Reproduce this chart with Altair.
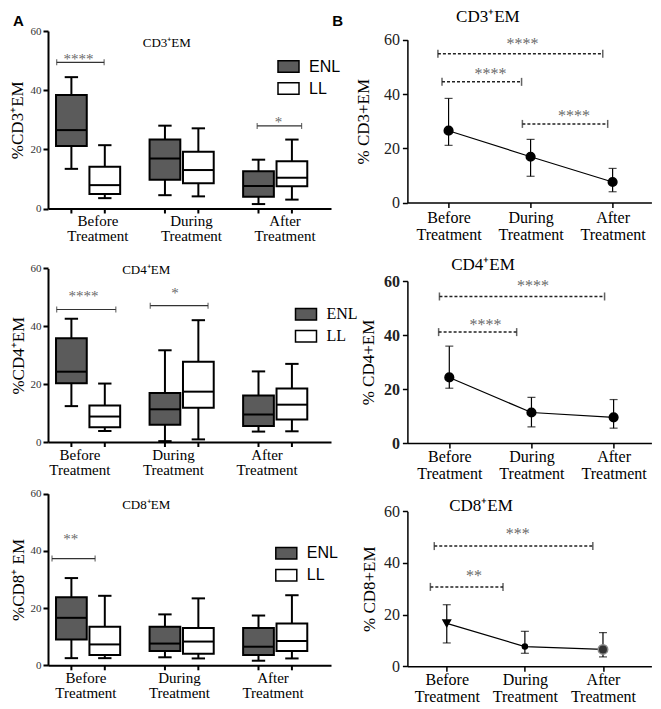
import altair as alt
import pandas as pd

SERIF = "Liberation Serif"
SANS = "Liberation Sans"

treatments = ["Before Treatment", "During Treatment", "After Treatment"]
groups = ["ENL", "LL"]
y_ticks = [0, 20, 40, 60]

# five-number summaries [min, Q1, median, Q3, max], one per treatment
cd3_enl = [[13.4, 21.1, 26.5, 38.4, 44.4], [4.5, 9.7, 16.9, 23.3, 28.0], [1.5, 4.0, 7.6, 12.6, 16.5]]
cd3_ll = [[3.5, 4.9, 7.9, 14.1, 21.4], [4.1, 8.5, 13.0, 19.2, 27.1], [3.0, 7.5, 10.4, 16.0, 23.3]]
cd4_enl = [[12.4, 20.3, 24.3, 35.9, 42.6], [0.3, 6.0, 11.3, 16.9, 31.7], [3.6, 5.5, 9.5, 16.1, 24.4]]
cd4_ll = [[3.8, 5.1, 8.8, 12.6, 20.2], [0.9, 11.8, 17.4, 27.7, 42.1], [3.7, 7.8, 12.9, 18.5, 27.0]]
cd8_enl = [[2.5, 9.0, 16.6, 23.8, 30.5], [2.8, 5.0, 7.6, 13.5, 17.8], [1.6, 3.6, 6.5, 13.0, 17.4]]
cd8_ll = [[2.5, 3.6, 7.3, 13.5, 24.3], [2.4, 4.0, 8.3, 13.0, 23.4], [2.4, 5.0, 8.5, 14.6, 24.5]]

# significance brackets: (label, x_start, x_end, y, label_x, label_y)
cd3_box_sig = [("****", 0.26, 1.68, 49.4, 0.91, 51.2), ("*", 6.26, 7.59, 27.9, 6.9, 29.8)]
cd4_box_sig = [("****", 0.26, 2.03, 45.8, 1.06, 51.0), ("*", 3.06, 4.79, 47.1, 3.8, 52.2)]
cd8_box_sig = [("**", 0.12, 1.41, 37.3, 0.68, 44.7)]
cd3_line_sig = [("****", -0.13, 1.88, 54.9, 0.9, 59.3), ("****", -0.08, 0.89, 44.5, 0.51, 48.1),
                ("****", 0.9, 1.94, 29.0, 1.53, 32.6)]
cd4_line_sig = [("****", -0.12, 1.89, 54.3, 1.02, 58.8), ("****", -0.13, 0.82, 41.1, 0.44, 44.5)]
cd8_line_sig = [("***", -0.16, 1.87, 46.5, 0.91, 51.8), ("**", -0.21, 0.72, 30.7, 0.35, 35.5)]

# ---------------- layout / style ----------------
GROUP0, GROUP_STEP, BOX_HALF, CAP_HALF = 1.2, 2.8, 0.46, 0.2
L_WIDTH, L_DOMAIN = 283, [0, 8.47]
L_UNIT = L_WIDTH / (L_DOMAIN[1] - L_DOMAIN[0])
R_WIDTH = 244
BOX_FILL = ["#5b5b5b", "#ffffff"]
STAR_COLOR = "#6a6a6a"


def sig_frame(sig):
    return pd.DataFrame([{"label": s[0], "x1": s[1], "x2": s[2], "y": s[3], "sx": s[4], "sy": s[5]} for s in sig])


def text_layer(text, x, y, font, size, weight="normal", align="center"):
    return alt.Chart(pd.DataFrame({"t": [text]})).mark_text(
        font=font, fontSize=size, fontWeight=weight, align=align, baseline="middle", color="black"
    ).encode(text="t:N", x=alt.value(x), y=alt.value(y))


def multi_label_expr(values):
    expr = "''"
    for v, name in reversed(list(zip(values, treatments))):
        arr = "[" + ",".join("'" + w + "'" for w in name.split(" ")) + "]"
        expr = f"abs(datum.value - {v:.4f}) < 0.05 ? {arr} : ({expr})"
    return expr


def box_panel(enl, ll, sig, ytitle, ptitle, g):
    rows = []
    for ti, t in enumerate(treatments):
        for gi, (grp, st) in enumerate(zip(groups, (enl[ti], ll[ti]))):
            p = GROUP0 + GROUP_STEP * ti + (gi - 0.5)
            rows.append({"treat": t, "group": grp, "pos": p, "lo": p - BOX_HALF, "hi": p + BOX_HALF,
                         "cl": p - CAP_HALF, "cr": p + CAP_HALF,
                         "mn": st[0], "q1": st[1], "med": st[2], "q3": st[3], "mx": st[4]})
    df = pd.DataFrame(rows)
    positions = [round(v, 4) for v in df["pos"].tolist()]
    label_pos = [round(v + g["ldx"] / L_UNIT, 4) for v in positions[0::2]]
    h, top = g["h"], g["top"]
    xs = alt.Scale(domain=L_DOMAIN, nice=False, zero=False)
    ys = alt.Scale(domain=[0, 60], nice=False, zero=True, range=[h, top])
    xax = alt.Axis(values=label_pos, labelExpr=multi_label_expr(label_pos), title=None, grid=False,
                   ticks=False, domainWidth=2, domainColor="black",
                   labelFont=SERIF, labelFontSize=15, labelColor="black", labelLineHeight=15,
                   labelPadding=5, labelOverlap=False, labelFlush=False)
    yax = alt.Axis(values=y_ticks, title=ytitle, grid=False, tickSize=5, tickWidth=2, tickColor="black",
                   domainWidth=2, domainColor="black", labelFont=SERIF, labelFontSize=11, labelColor="#333333",
                   labelPadding=2, titleFont=SERIF, titleFontSize=17, titleFontWeight="normal",
                   titleColor="black", titleX=g["tx"], titleY=(h + top) / 2, titleBaseline="middle",
                   titleAlign="center", titleAngle=270)

    def X(f):
        return alt.X(f, scale=xs, axis=xax)

    def Y(f):
        return alt.Y(f, scale=ys, axis=yax)

    base = alt.Chart(df)
    ticks = base.mark_rule(color="black", strokeWidth=2).encode(
        x=X("pos:Q"), y=alt.value(h), y2=alt.value(h + 5))
    whisk = base.mark_rule(color="black", strokeWidth=2).encode(x=X("pos:Q"), y=Y("mn:Q"), y2="mx:Q")
    box = base.mark_bar(stroke="black", strokeWidth=2).encode(
        x=X("lo:Q"), x2="hi:Q", y=Y("q1:Q"), y2="q3:Q",
        fill=alt.Fill("group:N", scale=alt.Scale(domain=groups, range=BOX_FILL),
                      legend=alt.Legend(title=None, orient="none", legendX=g["lx"], legendY=g["ly"],
                                        symbolType="M-1,-0.55L1,-0.55L1,0.55L-1,0.55Z", symbolSize=441,
                                        symbolStrokeColor="black", symbolStrokeWidth=1.5,
                                        labelFont=g["lfont"], labelFontSize=16, labelColor="black",
                                        labelOffset=9, rowPadding=1, padding=0)))
    med = base.mark_rule(color="black", strokeWidth=2).encode(x=X("lo:Q"), x2="hi:Q", y=Y("med:Q"))
    cap_lo = base.mark_rule(color="black", strokeWidth=2).encode(x=X("cl:Q"), x2="cr:Q", y=Y("mn:Q"))
    cap_hi = base.mark_rule(color="black", strokeWidth=2).encode(x=X("cl:Q"), x2="cr:Q", y=Y("mx:Q"))

    sdf = sig_frame(sig)
    sbase = alt.Chart(sdf)
    br = sbase.mark_rule(color="#333333", strokeWidth=1.2).encode(x=X("x1:Q"), x2="x2:Q", y=Y("y:Q"))
    br1 = sbase.mark_tick(orient="vertical", size=6, thickness=1.2, color="#333333").encode(x=X("x1:Q"), y=Y("y:Q"))
    br2 = sbase.mark_tick(orient="vertical", size=6, thickness=1.2, color="#333333").encode(x=X("x2:Q"), y=Y("y:Q"))
    stars = sbase.mark_text(font=SERIF, fontSize=15, color=STAR_COLOR, baseline="alphabetic", dy=7).encode(
        x=X("sx:Q"), y=Y("sy:Q"), text="label:N")

    layers = [ticks, whisk, box, med, cap_lo, cap_hi, br, br1, br2, stars,
              text_layer(ptitle, g["ptx"], g["pty"], SERIF, 13)]
    if "panel" in g:
        layers.append(text_layer(g["panel"], -29.5, -9.8, SANS, 15, weight="bold"))
    return alt.layer(*layers).properties(width=L_WIDTH, height=h)


def line_panel(stats, sig, ytitle, ptitle, g, markers):
    rows = []
    for i, st in enumerate(stats):
        rows.append({"i": i, "q1": st[1], "med": st[2], "q3": st[3],
                     "shape": markers[i][0], "size": markers[i][1], "fill": markers[i][2],
                     "stroke": markers[i][3]})
    df = pd.DataFrame(rows)
    h, top = g["h"], g["top"]
    xs = alt.Scale(domain=g["xdom"], nice=False, zero=False)
    ys = alt.Scale(domain=[0, 60], nice=False, zero=True, range=[h, top])
    xax = alt.Axis(values=[0, 1, 2], labelExpr=multi_label_expr([0, 1, 2]), title=None, grid=False,
                   tickSize=5, tickWidth=1.5, tickColor="black", domainWidth=1.5, domainColor="black",
                   labelFont=SERIF, labelFontSize=16, labelColor="black", labelLineHeight=17,
                   labelPadding=g["lpad"], labelOverlap=False, labelFlush=False)
    yax = alt.Axis(values=y_ticks, title=ytitle, grid=False, tickSize=5, tickWidth=1.5, tickColor="black",
                   domainWidth=1.5, domainColor="black", labelFont=SERIF, labelFontSize=16,
                   labelFontWeight=g["yweight"], labelColor="#222222", labelPadding=3,
                   titleFont=SERIF, titleFontSize=17, titleFontWeight="normal", titleColor="black",
                   titleX=g["tx"], titleY=(h + top) / 2, titleBaseline="middle", titleAlign="center",
                   titleAngle=270)

    def X(f):
        return alt.X(f, scale=xs, axis=xax)

    def Y(f):
        return alt.Y(f, scale=ys, axis=yax)

    base = alt.Chart(df)
    line = base.mark_line(color="black", strokeWidth=1.2).encode(x=X("i:Q"), y=Y("med:Q"))
    err = base.mark_rule(color="black", strokeWidth=1.2).encode(x=X("i:Q"), y=Y("q1:Q"), y2="q3:Q")
    c1 = base.mark_tick(orient="horizontal", size=8, thickness=1.2, color="black").encode(x=X("i:Q"), y=Y("q1:Q"))
    c2 = base.mark_tick(orient="horizontal", size=8, thickness=1.2, color="black").encode(x=X("i:Q"), y=Y("q3:Q"))
    pts = base.mark_point(filled=True, opacity=1, strokeWidth=1.5).encode(
        x=X("i:Q"), y=Y("med:Q"),
        shape=alt.Shape("shape:N", scale=None), size=alt.Size("size:Q", scale=None),
        fill=alt.Fill("fill:N", scale=None), stroke=alt.Stroke("stroke:N", scale=None))

    sdf = sig_frame(sig)
    sbase = alt.Chart(sdf)
    br = sbase.mark_rule(color="#222222", strokeWidth=1.5, strokeDash=[3, 2]).encode(x=X("x1:Q"), x2="x2:Q", y=Y("y:Q"))
    br1 = sbase.mark_tick(orient="vertical", size=8, thickness=1.5, color="#222222").encode(x=X("x1:Q"), y=Y("y:Q"))
    br2 = sbase.mark_tick(orient="vertical", size=8, thickness=1.5, color="#222222").encode(x=X("x2:Q"), y=Y("y:Q"))
    stars = sbase.mark_text(font=SERIF, fontSize=16, color=STAR_COLOR, baseline="alphabetic", dy=7).encode(
        x=X("sx:Q"), y=Y("sy:Q"), text="label:N")

    layers = [line, err, c1, c2, pts, br, br1, br2, stars,
              text_layer(ptitle, g["ptx"], g["pty"], SERIF, 17)]
    if "panel" in g:
        layers.append(text_layer(g["panel"], -69.7, -9.7, SANS, 15, weight="bold"))
    return alt.layer(*layers).properties(width=R_WIDTH, height=h)


dot = ("circle", 75, "black", "black")
b3_markers = [("triangle-down", 55, "black", "black"), ("circle", 25, "black", "black"),
              ("circle", 90, "#333333", "#8a8a8a")]

A1 = box_panel(cd3_enl, cd3_ll, cd3_box_sig, "%CD3\u207aEM", "CD3\u207aEM",
               dict(h=177.5, top=0, ldx=26, tx=-31, lx=229, ly=24, lfont=SANS, ptx=118.8, pty=11.7, panel="A"))
A2 = box_panel(cd4_enl, cd4_ll, cd4_box_sig, "%CD4\u207aEM", "CD4\u207aEM",
               dict(h=233, top=59.4, ldx=8, tx=-30, lx=246.5, ly=93.8, lfont=SERIF, ptx=98.2, pty=61.4))
A3 = box_panel(cd8_enl, cd8_ll, cd8_box_sig, "%CD8\u207a EM", "CD8\u207aEM",
               dict(h=222.3, top=50.7, ldx=14, tx=-30, lx=226.8, ly=98.7, lfont=SANS, ptx=98.2, pty=62.4))

B1 = line_panel(cd3_enl, cd3_line_sig, "% CD3+EM", "CD3\u207aEM",
                dict(h=171.6, top=8.8, xdom=[-0.502, 2.473], lpad=2, yweight="normal", tx=-44.2,
                     ptx=80.5, pty=-13.6, panel="B"), [dot, dot, dot])
B2 = line_panel(cd4_enl, cd4_line_sig, "% CD4+EM", "CD4\u207aEM",
                dict(h=234, top=72.1, xdom=[-0.51, 2.46], lpad=0, yweight="bold", tx=-39.3,
                     ptx=75.6, pty=56.2), [dot, dot, dot])
B3 = line_panel(cd8_enl, cd8_line_sig, "% CD8+EM", "CD8\u207aEM",
                dict(h=223.2, top=68.2, xdom=[-0.504, 2.62], lpad=0, yweight="normal", tx=-38.3,
                     ptx=73.6, pty=62.6), b3_markers)

chart = alt.concat(A1, B1, A2, B2, A3, B3, columns=2, bounds="flush",
                   spacing={"row": 0, "column": 76.4}, padding=0, background="white").resolve_scale(
    fill="independent").resolve_legend(fill="independent").configure_view(stroke=None)

chart.save("out.html", embed_options={"renderer": "svg", "actions": False})
